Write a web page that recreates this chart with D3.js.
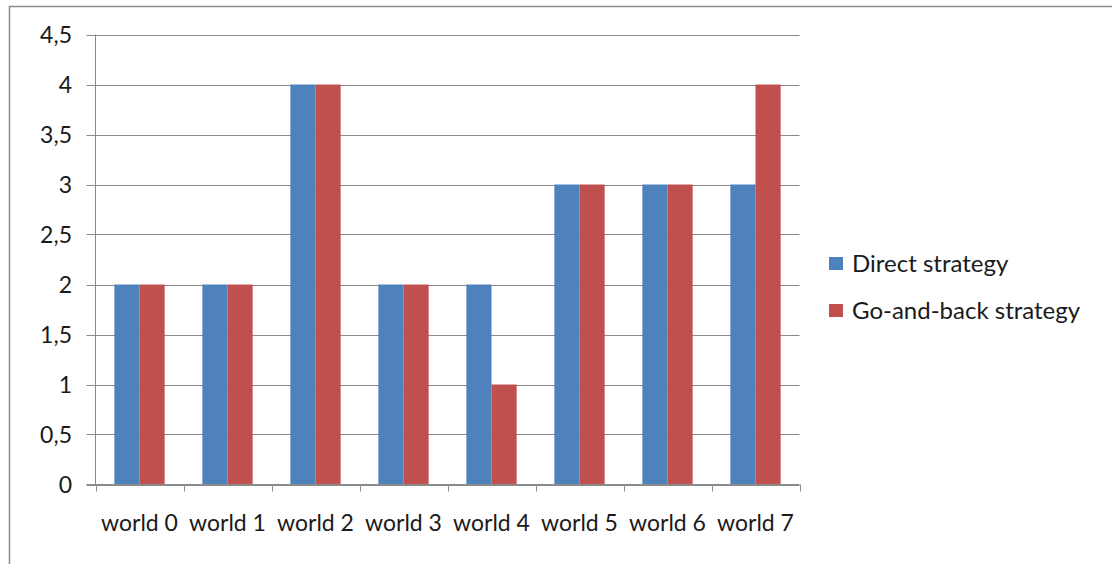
<!DOCTYPE html>
<html>
<head>
<meta charset="utf-8">
<script src="https://cdn.jsdelivr.net/npm/d3@7"></script>
<style>
  html, body { margin: 0; padding: 0; background: #fff; }
  svg { display: block; }
  text { font-family: Lato, "Open Sans", sans-serif; fill: #1a1a1a; }
</style>
</head>
<body>
<svg id="chart" width="1112" height="564"></svg>
<script>
const categories = ["world 0", "world 1", "world 2", "world 3", "world 4", "world 5", "world 6", "world 7"];
const seriesNames = ["Direct strategy", "Go-and-back strategy"];
const directValues = [2, 2, 4, 2, 2, 3, 3, 3];
const goBackValues = [2, 2, 4, 2, 1, 3, 3, 4];
const yTicks = [0, 0.5, 1, 1.5, 2, 2.5, 3, 3.5, 4, 4.5];
const colors = ["#4f81bd", "#c0504d"];

const FONT = 23;
const LEGEND_FONT = 24;
const svg = d3.select("#chart");

// outer chart frame (runs off the right and bottom edges)
svg.append("path")
  .attr("d", "M9.5,580V6.5H1130")
  .attr("fill", "none")
  .attr("stroke", "#8c8c8c")
  .attr("stroke-width", 1.5);

const plot = { left: 95.5, right: 799.5, top: 34.5, bottom: 484.5 };

const x = d3.scaleBand().domain(categories).range([plot.left, plot.right]).paddingInner(0).paddingOuter(0);
const y = d3.scaleLinear().domain([0, 4.5]).range([plot.bottom, plot.top]);
const fmt = v => String(v).replace(".", ",");

// horizontal gridlines with short ticks left of the axis
const grid = svg.append("g");
grid.selectAll("line").data(yTicks).join("line")
  .attr("x1", plot.left - 9).attr("x2", plot.right)
  .attr("y1", d => Math.round(y(d)) + 0.5).attr("y2", d => Math.round(y(d)) + 0.5)
  .attr("stroke", "#8a8a8a").attr("stroke-width", 1);

// bars: gap between groups is 1.5 bar widths
const groupW = x.bandwidth();
const barW = groupW / 3.5;
const inner = d3.scaleBand().domain([0, 1]).range([0, barW * 2]);
const rows = categories.map((c, i) => ({ c, vals: [directValues[i], goBackValues[i]] }));
const groups = svg.append("g").selectAll("g").data(rows).join("g")
  .attr("transform", d => `translate(${x(d.c) + (groupW - barW * 2) / 2},0)`);
groups.selectAll("rect").data(d => d.vals.map((v, k) => ({ v, k }))).join("rect")
  .attr("x", d => inner(d.k))
  .attr("width", inner.bandwidth())
  .attr("y", d => y(d.v))
  .attr("height", d => y(0) - y(d.v))
  .attr("fill", d => colors[d.k]);

// y axis line
svg.append("line")
  .attr("x1", plot.left).attr("x2", plot.left)
  .attr("y1", plot.top).attr("y2", plot.bottom)
  .attr("stroke", "#8a8a8a");

// x axis with category ticks
const xAxis = svg.append("g").attr("transform", `translate(0,${plot.bottom})`);
xAxis.append("line").attr("x1", plot.left - 9).attr("x2", plot.right).attr("stroke", "#8a8a8a");
const tickXs = categories.map(c => x(c)).concat([plot.right]);
xAxis.selectAll("line.tick").data(tickXs).join("line")
  .attr("class", "tick")
  .attr("x1", d => Math.round(d) + 0.5).attr("x2", d => Math.round(d) + 0.5)
  .attr("y1", 0).attr("y2", 7)
  .attr("stroke", "#8a8a8a");
xAxis.selectAll("text").data(categories).join("text")
  .attr("x", d => x(d) + groupW / 2)
  .attr("y", 46)
  .attr("text-anchor", "middle")
  .attr("font-size", FONT)
  .text(d => d);

// y tick labels
svg.append("g").selectAll("text").data(yTicks).join("text")
  .attr("x", 72)
  .attr("y", d => y(d) + 8)
  .attr("text-anchor", "end")
  .attr("font-size", FONT)
  .text(fmt);

// legend
const legend = svg.append("g").selectAll("g").data(seriesNames).join("g")
  .attr("transform", (d, i) => `translate(829,${257 + i * 47})`);
legend.append("rect").attr("width", 14).attr("height", 13).attr("fill", (d, i) => colors[i]);
legend.append("text").attr("x", 23).attr("y", 15).attr("font-size", LEGEND_FONT).text(d => d);
</script>
</body>
</html>
